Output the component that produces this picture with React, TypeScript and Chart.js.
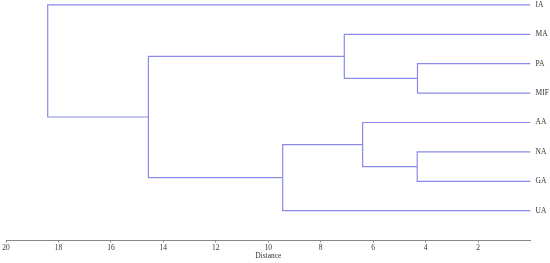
import React, { useEffect, useRef } from "react";
import { Chart, registerables } from "chart.js";

Chart.register(...registerables);

// Leaves, top to bottom
const leaves = ["IA", "MA", "PA", "MIF", "AA", "NA", "GA", "UA"];
// Linkage: node ids 0..7 are leaves, 8.. are clusters in merge order
const mergeA = [2, 5, 4, 1, 10, 11, 0];
const mergeB = [3, 6, 9, 8, 7, 12, 13];
const mergeHeight = [4.31, 4.32, 6.4, 7.1, 9.45, 14.57, 18.41];
// Distance tick labels
const xTicks = [20, 18, 16, 14, 12, 10, 8, 6, 4, 2];

const LINE = "#8a8ae6";
const FONT = "'Liberation Serif', 'Times New Roman', serif";

function buildSegments() {
  const nodeY: number[] = leaves.map((_, i) => i);
  const nodeH: number[] = leaves.map(() => 0);
  const segs: { x: number; y: number }[][] = [];
  mergeA.forEach((a, k) => {
    const b = mergeB[k];
    const h = mergeHeight[k];
    segs.push([
      { x: nodeH[a], y: nodeY[a] },
      { x: h, y: nodeY[a] },
      { x: h, y: nodeY[b] },
      { x: nodeH[b], y: nodeY[b] },
    ]);
    nodeY.push((nodeY[a] + nodeY[b]) / 2);
    nodeH.push(h);
  });
  return segs;
}

export default function App() {
  const ref = useRef<HTMLCanvasElement | null>(null);
  useEffect(() => {
    if (!ref.current) return;
    const segs = buildSegments();
    const chart = new Chart(ref.current, {
      type: "scatter",
      data: {
        datasets: segs.map((s) => ({
          data: s,
          showLine: true,
          borderColor: LINE,
          backgroundColor: LINE,
          borderWidth: 1.2,
          pointRadius: 0,
          tension: 0,
        })),
      },
      options: {
        animation: false,
        responsive: true,
        maintainAspectRatio: false,
        layout: { padding: { left: 6, right: 0, top: 0, bottom: 0 } },
        plugins: { legend: { display: false }, tooltip: { enabled: false } },
        scales: {
          x: {
            type: "linear",
            reverse: true,
            min: 0,
            max: 20,
            afterBuildTicks: (scale: any) => {
              scale.ticks = xTicks.map((v) => ({ value: v }));
            },
            afterFit: (scale: any) => {
              scale.height = 22.5;
              scale.paddingLeft = 0;
              scale.paddingRight = 0;
            },
            grid: {
              display: true,
              drawOnChartArea: false,
              drawTicks: true,
              tickLength: 2,
              color: "#888",
            },
            border: { display: true, color: "#888", width: 1 },
            ticks: {
              color: "#333",
              padding: 1,
              maxRotation: 0,
              autoSkip: false,
              font: { family: FONT, size: 7.5 },
            },
            title: {
              display: true,
              text: "Distance",
              color: "#333",
              font: { family: FONT, size: 7.5 },
              padding: { top: 0, bottom: 2 },
            },
          },
          y: {
            type: "linear",
            position: "right",
            reverse: true,
            min: -0.167,
            max: 8.013,
            afterBuildTicks: (scale: any) => {
              scale.ticks = leaves.map((_, i) => ({ value: i }));
            },
            afterFit: (scale: any) => {
              scale.width = 19.5;
              scale.paddingTop = 0;
              scale.paddingBottom = 0;
            },
            grid: { display: false, drawTicks: false },
            border: { display: false },
            ticks: {
              color: "#333",
              padding: 5,
              autoSkip: false,
              font: { family: FONT, size: 7.5 },
              callback: (v: any) => leaves[Number(v)] ?? "",
            },
          },
        },
      },
    } as any);
    return () => chart.destroy();
  }, []);
  return (
    <div style={{ position: "fixed", left: 0, top: 0, width: 550, height: 263, background: "#fff" }}>
      <canvas ref={ref} />
    </div>
  );
}
